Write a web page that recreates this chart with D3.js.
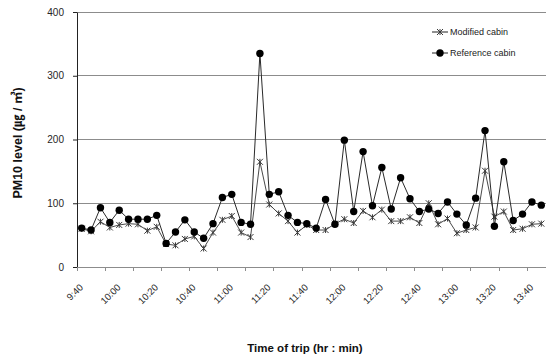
<!DOCTYPE html>
<html>
<head>
<meta charset="utf-8">
<script src="https://cdn.jsdelivr.net/npm/d3@7"></script>
<style>
body { margin: 0; background: #fff; }
text { font-family: "Liberation Sans", Arial, sans-serif; }
</style>
</head>
<body>
<svg id="Plots" width="546" height="356"></svg>
<script>
// sampling times, every 5 minutes
var times = ["9:40","9:45","9:50","9:55","10:00","10:05","10:10","10:15","10:20","10:25",
             "10:30","10:35","10:40","10:45","10:50","10:55","11:00","11:05","11:10","11:15",
             "11:20","11:25","11:30","11:35","11:40","11:45","11:50","11:55","12:00","12:05",
             "12:10","12:15","12:20","12:25","12:30","12:35","12:40","12:45","12:50","12:55",
             "13:00","13:05","13:10","13:15","13:20","13:25","13:30","13:35","13:40","13:45"];
var tick_labels = ["9:40","10:00","10:20","10:40","11:00","11:20","11:40",
                   "12:00","12:20","12:40","13:00","13:20","13:40"];
var modified = [60, 56, 71, 62, 66, 68, 67, 57, 63, 36,
                34, 44, 48, 29, 54, 74, 80, 54, 47, 165,
                98, 84, 72, 54, 66, 58, 58, 68, 75, 69,
                88, 78, 90, 72, 72, 78, 69, 100, 67, 76,
                53, 58, 62, 151, 79, 87, 58, 60, 67, 68];
var reference = [61, 58, 93, 70, 89, 75, 75, 75, 81, 37,
                 55, 74, 55, 45, 68, 109, 114, 70, 67, 335,
                 114, 118, 81, 70, 68, 61, 106, 67, 199, 87,
                 181, 96, 156, 91, 140, 107, 87, 91, 84, 102,
                 83, 66, 108, 214, 64, 165, 73, 83, 102, 97];
var y_ticks = [0, 100, 200, 300, 400];

var svg = d3.select("#Plots"),
    margin = {top: 12, right: 0, bottom: 89, left: 77},
    width = +svg.attr("width") - margin.left - margin.right,
    height = +svg.attr("height") - margin.top - margin.bottom,
    group = svg.append("g").attr("transform", "translate(" + margin.left + "," + margin.top + ")");

var xscale = d3.scaleBand()
    .domain(times)
    .range([0, width])
    .padding(0);

var yscale = d3.scaleLinear()
    .domain([0, 400])
    .range([height, 0]);

function xmid(d) { return xscale(d) + xscale.bandwidth() / 2; }

// excel style star: x with a vertical bar
function star_path(s) {
    return "M" + (-s) + "," + (-s) + "L" + s + "," + s +
           "M" + (-s) + "," + s + "L" + s + "," + (-s) +
           "M0," + (-s) + "L0," + s;
}

function setup_grid() {
    group.append("g")
        .selectAll("line")
        .data(y_ticks.slice(1))
        .enter().append("line")
        .attr("x1", 0)
        .attr("x2", width)
        .attr("y1", function(d) { return yscale(d); })
        .attr("y2", function(d) { return yscale(d); })
        .attr("stroke", "#8c8c8c")
        .attr("stroke-width", 1)
        .attr("shape-rendering", "crispEdges");
}

function setup_axis() {
    var yAxis = d3.axisLeft(yscale)
        .tickValues(y_ticks)
        .tickSizeInner(4)
        .tickSizeOuter(0)
        .tickPadding(9);
    var y_axis = group.append("g")
        .attr("class", "y_axis")
        .call(yAxis);
    y_axis.select(".domain").attr("stroke", "#222");
    y_axis.selectAll(".tick line").attr("stroke", "#222");
    y_axis.selectAll("text")
        .attr("font-size", 10)
        .attr("fill", "#262626");

    // category axis: ticks every 3 categories, labels every 4
    var x_axis = group.append("g").attr("class", "x_axis")
        .attr("transform", "translate(0," + height + ")");
    x_axis.append("line")
        .attr("x1", 0).attr("x2", width)
        .attr("stroke", "#8c8c8c")
        .attr("shape-rendering", "crispEdges");
    var tick_pos = times.filter(function(d, i) { return i % 3 == 0; });
    x_axis.selectAll(".xt")
        .data(tick_pos)
        .enter().append("line")
        .attr("class", "xt")
        .attr("x1", function(d) { return xscale(d); })
        .attr("x2", function(d) { return xscale(d); })
        .attr("y1", 0)
        .attr("y2", 4)
        .attr("stroke", "#8c8c8c")
        .attr("shape-rendering", "crispEdges");
    x_axis.selectAll(".xl")
        .data(tick_labels)
        .enter().append("text")
        .attr("class", "xl")
        .attr("text-anchor", "end")
        .attr("font-size", 9.5)
        .attr("fill", "#262626")
        .attr("transform", function(d) {
            return "translate(" + (xmid(d) + 2) + ",21) rotate(-45)";
        })
        .text(function(d) { return d; });
}

function setup_lines() {
    var line_mod = d3.line()
        .x(function(d, i) { return xmid(times[i]); })
        .y(function(d) { return yscale(d); });
    group.append("path")
        .datum(modified)
        .attr("fill", "none")
        .attr("stroke", "#4a4a4a")
        .attr("stroke-width", 1)
        .attr("d", line_mod);
    group.append("g")
        .selectAll("path")
        .data(modified)
        .enter().append("path")
        .attr("transform", function(d, i) { return "translate(" + xmid(times[i]) + "," + yscale(d) + ")"; })
        .attr("d", star_path(3))
        .attr("fill", "none")
        .attr("stroke", "#3a3a3a")
        .attr("stroke-width", 1);

    group.append("path")
        .datum(reference)
        .attr("fill", "none")
        .attr("stroke", "#2a2a2a")
        .attr("stroke-width", 1)
        .attr("d", line_mod);
    group.append("g")
        .selectAll("circle")
        .data(reference)
        .enter().append("circle")
        .attr("cx", function(d, i) { return xmid(times[i]); })
        .attr("cy", function(d) { return yscale(d); })
        .attr("r", 3.7)
        .attr("fill", "#000");
}

function setup_legends() {
    var keys = ["Modified cabin", "Reference cabin"];
    var legend = svg.append("g")
        .selectAll("g")
        .data(keys)
        .enter().append("g")
        .attr("transform", function(d, i) { return "translate(432," + (32 + i * 21) + ")"; });
    legend.append("line")
        .attr("x1", 0).attr("x2", 16)
        .attr("stroke", "#222");
    legend.filter(function(d, i) { return i == 0; })
        .append("path")
        .attr("transform", "translate(8,0)")
        .attr("d", star_path(3))
        .attr("stroke", "#3a3a3a")
        .attr("fill", "none");
    legend.filter(function(d, i) { return i == 1; })
        .append("circle")
        .attr("cx", 8)
        .attr("r", 3.7)
        .attr("fill", "#000");
    legend.append("text")
        .attr("x", 18)
        .attr("dy", "0.35em")
        .attr("font-size", 9)
        .attr("fill", "#222")
        .text(function(d) { return d; });
}

function setup_titles() {
    svg.append("text")
        .attr("x", 305)
        .attr("y", 352)
        .attr("text-anchor", "middle")
        .attr("font-size", 11.5)
        .attr("font-weight", "bold")
        .attr("fill", "#111")
        .text("Time of trip (hr : min)");
    svg.append("text")
        .attr("transform", "translate(22,143) rotate(-90)")
        .attr("text-anchor", "middle")
        .attr("font-size", 12.5)
        .attr("font-weight", "bold")
        .attr("fill", "#111")
        .style("font-family", "'Liberation Sans', 'Noto Sans CJK KR', sans-serif")
        .text("PM10 level (㎍ / ㎥)");
}

setup_grid();
setup_axis();
setup_lines();
setup_legends();
setup_titles();
</script>
</body>
</html>
